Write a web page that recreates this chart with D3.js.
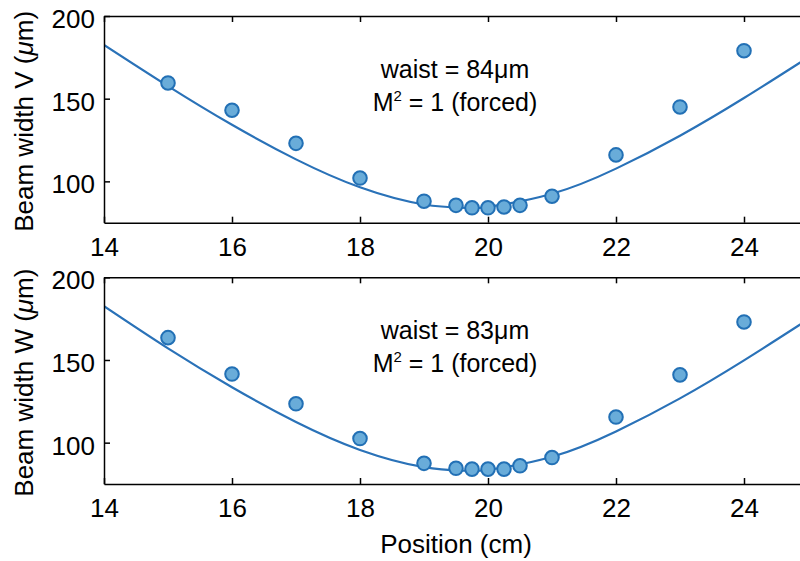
<!DOCTYPE html>
<html>
<head>
<meta charset="utf-8">
<script src="https://cdn.jsdelivr.net/npm/d3@7"></script>
<style>
  body { margin: 0; background: #fff; }
  svg { display: block; font-family: "Liberation Sans", Arial, Helvetica, sans-serif; }
</style>
</head>
<body>
<svg id="chart" width="800" height="561"></svg>
<script>
// measured positions (cm)
const positions = [15, 16, 17, 18, 19, 19.5, 19.75, 20, 20.25, 20.5, 21, 22, 23, 24];
// beam width V (um)
const widthV = [159.5, 143, 123, 102, 88, 85.5, 84, 84, 84.5, 85.5, 91, 116, 145, 179];
// beam width W (um)
const widthW = [163.5, 141.5, 123.5, 102.5, 87.5, 84.5, 84, 84, 84, 86, 91, 115.5, 141, 173];

// fitted curves
const fitPos = [14, 15, 16, 17, 18, 19, 19.65, 20, 21, 22, 23, 24, 25];
const fitV = [182.5, 157.6, 134.2, 113.3, 96.4, 86.0, 84, 84.6, 92.5, 107.7, 127.6, 150.4, 174.9];
const fitW = [182.5, 157.0, 133.5, 112.5, 95.6, 85.2, 83, 83.6, 91.5, 106.8, 126.8, 149.8, 174.5];

const xTicks = [14, 16, 18, 20, 22, 24];
const yTicks = [100, 150, 200];

const panels = [
  { label: 'V', data: widthV, fit: fitV, waist: '84', top: 16, bottom: 222.7 },
  { label: 'W', data: widthW, fit: fitW, waist: '83', top: 277.3, bottom: 484 }
];

const svg = d3.select('#chart');
const left = 104, right = 808;
const lineColor = '#2a72b8';

const x = d3.scaleLinear().domain([14, 25]).range([left, right]);

panels.forEach((p, i) => {
  const y = d3.scaleLinear().domain([75, 200]).range([p.bottom, p.top]);
  const g = svg.append('g');

  const clipId = 'clip' + i;
  svg.append('clipPath').attr('id', clipId)
    .append('rect')
    .attr('x', left).attr('y', p.top)
    .attr('width', right - left).attr('height', p.bottom - p.top);

  // fit line
  const line = d3.line()
    .x((d, j) => x(fitPos[j]))
    .y(d => y(d))
    .curve(d3.curveNatural);
  g.append('path')
    .datum(p.fit)
    .attr('clip-path', `url(#${clipId})`)
    .attr('d', line)
    .attr('fill', 'none')
    .attr('stroke', lineColor)
    .attr('stroke-width', 2.2);

  // data points
  g.selectAll('circle')
    .data(p.data)
    .enter()
    .append('circle')
    .attr('cx', (d, j) => x(positions[j]))
    .attr('cy', d => y(d))
    .attr('r', 6.8)
    .attr('fill', '#69acd9')
    .attr('stroke', '#2270b5')
    .attr('stroke-width', 2);

  // axes (ticks pointing inward)
  const xAxis = d3.axisBottom(x).tickValues(xTicks).tickSizeInner(-6).tickSizeOuter(0).tickPadding(15);
  const xTop = d3.axisTop(x).tickValues(xTicks).tickSizeInner(-6).tickSizeOuter(0).tickFormat('');
  const yAxis = d3.axisLeft(y).tickValues(yTicks).tickSizeInner(-6).tickSizeOuter(0).tickPadding(9);

  const gx = g.append('g').attr('transform', `translate(0,${p.bottom})`).call(xAxis);
  const gt = g.append('g').attr('transform', `translate(0,${p.top})`).call(xTop);
  const gy = g.append('g').attr('transform', `translate(${left},0)`).call(yAxis);
  g.append('line')
    .attr('x1', right).attr('x2', right)
    .attr('y1', p.top).attr('y2', p.bottom)
    .attr('stroke', '#000').attr('stroke-width', 1.5);

  [gx, gt, gy].forEach(a => {
    a.selectAll('path, line').attr('stroke', '#000').attr('stroke-width', 1.5);
    a.selectAll('text').attr('fill', '#000').style('font-size', '26px');
  });
  gy.selectAll('text').attr('dy', '0.44em');

  // y label
  const yl = g.append('text')
    .attr('transform', `translate(33,${(p.top + p.bottom) / 2 + 2}) rotate(-90)`)
    .attr('text-anchor', 'middle')
    .style('font-size', '26px');
  yl.append('tspan').text(`Beam width ${p.label} (`);
  yl.append('tspan').style('font-style', 'italic').text('μ');
  yl.append('tspan').text('m)');

  // annotation
  const cx = 455;
  g.append('text')
    .attr('x', cx).attr('y', p.top + 62)
    .attr('text-anchor', 'middle')
    .style('font-size', '25px')
    .text(`waist = ${p.waist}μm`);
  const m = g.append('text')
    .attr('x', cx).attr('y', p.top + 95)
    .attr('text-anchor', 'middle')
    .style('font-size', '25px');
  m.append('tspan').text('M');
  m.append('tspan').attr('dy', -10).style('font-size', '15px').text('2');
  m.append('tspan').attr('dy', 10).text(' = 1 (forced)');
});

svg.append('text')
  .attr('x', 456).attr('y', 553)
  .attr('text-anchor', 'middle')
  .style('font-size', '26px')
  .text('Position (cm)');
</script>
</body>
</html>
